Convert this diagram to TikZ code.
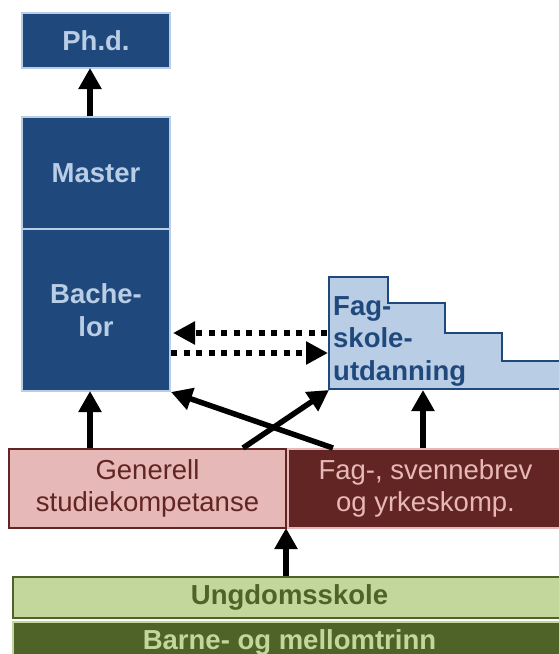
\documentclass[tikz,border=0pt]{standalone}
\usepackage{fontspec}
\setmainfont{Liberation Sans}
\usetikzlibrary{arrows.meta}
\definecolor{dblue}{HTML}{1F497D}
\definecolor{lblue}{HTML}{B9CDE5}
\definecolor{pinkc}{HTML}{E6B9B8}
\definecolor{dred}{HTML}{632523}
\definecolor{lgreen}{HTML}{C3D69B}
\definecolor{dgreen}{HTML}{4F6228}
\begin{document}
\begin{tikzpicture}[x=1pt,y=-1pt,
  boxbase/.style={line width=2pt, inner sep=0pt, anchor=north west, align=center},
  bigb/.style={font=\fontsize{27.5}{32.5}\selectfont\bfseries},
  bigr/.style={font=\fontsize{27.5}{32.5}\selectfont},
  bluebox/.style={boxbase, bigb, draw=lblue, fill=dblue, text=lblue},
  pinkbox/.style={boxbase, bigr, draw=dred, fill=pinkc, text=dred},
  redbox/.style={boxbase, bigr, draw=pinkc, fill=dred, text=pinkc},
  lgbox/.style={boxbase, bigb, draw=dgreen, fill=lgreen, text=dgreen},
  dgbox/.style={boxbase, bigb, draw=lgreen, fill=dgreen, text=lgreen},
  arr/.style={-{Triangle[length=21pt,width=22pt]}, line width=5.5pt},
  dotarr/.style={-{Triangle[length=22pt,width=22pt]}, line width=6pt, dash pattern=on 6pt off 6.5pt},
]
\useasboundingbox (0,0) rectangle (559,654);

% blue column
\node[bluebox, minimum width=148pt, minimum height=55pt] (phd) at (21,12) {Ph.d.};
\node[bluebox, minimum width=148pt, minimum height=112pt] (master) at (21,116) {Master};
\node[bluebox, minimum width=148pt, minimum height=162pt] (bach) at (21,228) {Bache-\\lor};

% Fagskole staircase
\draw[draw=dblue, fill=lblue, line width=2pt]
  (329,389) -- (329,277) -- (388,277) -- (388,303) -- (445,303) -- (445,333)
  -- (502,333) -- (502,361) -- (564,361) -- (564,389) -- cycle;
\node[anchor=north west, inner sep=0pt, align=left, bigb, text=dblue] (fagtext) at (333,296) {Fag-\\skole-\\utdanning};
\coordinate (fssw) at (329,390);
\coordinate (fsbot) at (423,390);
\coordinate (dotr1) at (327,333);
\coordinate (dotl1) at (173,333);
\coordinate (dotl2) at (171,353);
\coordinate (dotr2) at (328,353);

% middle boxes
\node[pinkbox, minimum width=277pt, minimum height=79pt] (gen) at (8,448) {Generell\\studiekompetanse};
\node[redbox, minimum width=275pt, minimum height=79pt] (fag) at (287,448) {Fag-, svennebrev\\og yrkeskomp.};

% bottom boxes
\node[lgbox, minimum width=553pt, minimum height=41pt] (ung) at (12,576) {Ungdomsskole};
\node[dgbox, minimum width=553pt, minimum height=41pt] (barne) at (12,621) {Barne- og mellomtrinn};

% arrow anchors
\coordinate (ungtop) at (286,576);
\coordinate (gap) at (286,528);
\coordinate (gentop) at (90,448);
\coordinate (bachbot) at (90,391);
\coordinate (mastop) at (90,116);
\coordinate (phdbot) at (90,68);
\coordinate (fagtop) at (423,448);
\coordinate (crossA) at (333,448);
\coordinate (crossB) at (243,448);

% arrows
\draw[arr] (mastop) -- (phdbot);
\draw[arr] (gentop) -- (bachbot);
\draw[arr] (fagtop) -- (fsbot);
\draw[arr] (ungtop) -- (gap);
\draw[arr] (crossA) -- (bach.south east);
\draw[arr] (crossB) -- (fssw);
\draw[dotarr] (dotr1) -- (dotl1);
\draw[dotarr] (dotl2) -- (dotr2);
\end{tikzpicture}
\end{document}
